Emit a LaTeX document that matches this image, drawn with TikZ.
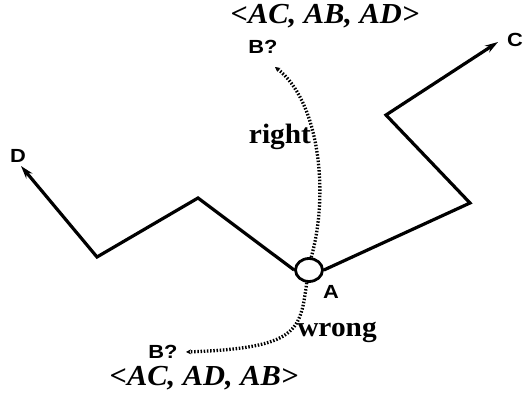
\documentclass[tikz,border=0pt]{standalone}
\usepackage{fontspec}
\usetikzlibrary{arrows.meta,shapes.geometric}
\newfontfamily\lblserif[FakeStretch=1.05]{Liberation Serif}
\newfontfamily\lblsans[FakeStretch=1.15]{Liberation Sans}
\begin{document}
\begin{tikzpicture}[x=1pt,y=-1pt,
  route/.style={line width=3.2pt, line join=miter},
  probe/.style={line width=3.3pt, dash pattern=on 1.5pt off 1.7pt},
  ptlbl/.style={font=\lblsans\bfseries\fontsize{19}{19}\selectfont, inner sep=0pt},
  wordlbl/.style={font=\lblserif\bfseries\fontsize{28}{28}\selectfont, inner sep=0pt},
  orderlbl/.style={font=\lblserif\bfseries\itshape\fontsize{29}{29}\selectfont, inner sep=0pt},
  tipend/.style={-{Stealth[length=13pt,width=8pt]}},
  smalltip/.style={-{Stealth[length=5pt,width=5pt]}}]
\fill[white] (0,0) rectangle (523,398);
\useasboundingbox (0,0) rectangle (523,398);
\node (A) at (309,270) [ellipse, draw, line width=2.8pt, minimum width=27pt, minimum height=23pt, inner sep=0pt] {};
\coordinate (d1) at (198,198);
\coordinate (d2) at (97,257);
\coordinate (Dtip) at (21,166);
\coordinate (c1) at (470,203);
\coordinate (c2) at (386,115);
\coordinate (Ctip) at (498,42);
\coordinate (b1) at (275,67);
\coordinate (b2) at (186,352);
\node[ptlbl] (D) at (18,156) {D};
\node[ptlbl] (C) at (515,40) {C};
\node[ptlbl] (Alab) at (331,292) {A};
\node[ptlbl] (B1) at (263,47) {B?};
\node[ptlbl] (B2) at (163,352) {B?};
\node[orderlbl] (O1) at (325,16) {<AC, AB, AD>};
\node[orderlbl] (O2) at (204,378) {<AC, AD, AB>};
\node[wordlbl] (R) at (280,137) {right};
\node[wordlbl] (W) at (337,332) {wrong};
\draw[route, tipend] (A.west) -- (d1) -- (d2) -- (Dtip);
\draw[route, tipend] (A.east) -- (c1) -- (c2) -- (Ctip);
\draw[probe, smalltip] (A.80) .. controls (330,190) and (318,100) .. (b1);
\draw[probe, smalltip] (A.260) .. controls (300,330) and (300,348) .. (b2);
\end{tikzpicture}
\end{document}
